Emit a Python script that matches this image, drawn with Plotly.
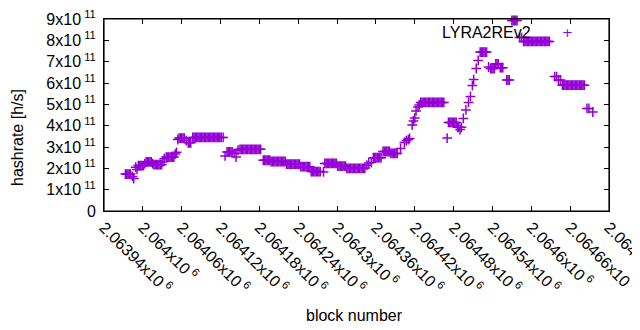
import plotly.graph_objects as go

# ---- data (block number, hashrate in units of 1e11 h/s) ----
block_number = [
    2063973, 2063975, 2063977, 2063979, 2063981, 2063984, 2063986,
    2063989, 2063991, 2063993, 2063995, 2063997, 2063999, 2064001,
    2064003, 2064005, 2064007, 2064009, 2064011, 2064013,
    2064015, 2064017, 2064019, 2064021, 2064023, 2064025, 2064027, 2064029,
    2064031, 2064033, 2064036, 2064038, 2064040, 2064042, 2064044, 2064046, 2064048, 2064050, 2064052,
    2064054, 2064056, 2064058, 2064060, 2064062, 2064064,
    2064067, 2064070, 2064072, 2064074,
    2064077, 2064079, 2064081, 2064083, 2064085, 2064087, 2064089, 2064091, 2064093, 2064095, 2064097, 2064099,
    2064101, 2064103, 2064105, 2064107, 2064109, 2064111, 2064113, 2064115, 2064117, 2064119, 2064121, 2064124,
    2064127, 2064130, 2064132, 2064134, 2064136, 2064138, 2064141, 2064144, 2064147,
    2064150, 2064152, 2064154, 2064156, 2064158, 2064160, 2064162, 2064164, 2064166, 2064168, 2064170, 2064172,
    2064174, 2064176, 2064178, 2064180, 2064182,
    2064186, 2064188, 2064190, 2064192, 2064194, 2064196,
    2064198, 2064200, 2064202, 2064204, 2064206, 2064208, 2064210, 2064212, 2064214, 2064216, 2064218, 2064220,
    2064222, 2064224, 2064226, 2064228, 2064230, 2064232, 2064234, 2064236, 2064238, 2064240, 2064242,
    2064244, 2064246, 2064248, 2064250, 2064252, 2064254, 2064256, 2064258,
    2064260, 2064262, 2064264, 2064266, 2064268, 2064270, 2064272, 2064274, 2064279,
    2064281, 2064283, 2064285, 2064287, 2064289, 2064291, 2064293, 2064295, 2064297, 2064299,
    2064301, 2064303, 2064305, 2064307, 2064309, 2064311, 2064313,
    2064315, 2064317, 2064319, 2064321, 2064323, 2064325, 2064327, 2064329, 2064331, 2064333, 2064335, 2064337,
    2064339, 2064341, 2064343,
    2064346, 2064349, 2064353,
    2064356, 2064358, 2064360, 2064362, 2064364, 2064366, 2064368,
    2064371, 2064373, 2064375, 2064377, 2064379, 2064381,
    2064383, 2064385, 2064387, 2064389, 2064391, 2064393,
    2064398, 2064404, 2064407, 2064410, 2064412, 2064416, 2064418, 2064420, 2064422, 2064425, 2064427,
    2064429, 2064431, 2064433, 2064435, 2064437, 2064439, 2064441, 2064443, 2064445, 2064447, 2064449, 2064451,
    2064453, 2064455, 2064457, 2064459, 2064461, 2064463, 2064465,
    2064470, 2064472, 2064474, 2064476, 2064478, 2064480, 2064482, 2064484,
    2064486, 2064488, 2064490, 2064492,
    2064495, 2064499, 2064503, 2064506, 2064509, 2064511, 2064515, 2064518,
    2064521, 2064523, 2064525, 2064527, 2064529, 2064531,
    2064534, 2064537, 2064539, 2064541, 2064543,
    2064545, 2064547, 2064549, 2064552, 2064554, 2064556,
    2064562, 2064564, 2064566,
    2064570, 2064572, 2064574, 2064576, 2064578,
    2064582, 2064585,
    2064588, 2064590, 2064592, 2064594, 2064596, 2064598, 2064600, 2064602, 2064604, 2064606, 2064608,
    2064610, 2064612, 2064614, 2064616, 2064618, 2064620, 2064622, 2064624, 2064626, 2064628,
    2064636, 2064639, 2064642, 2064645,
    2064648, 2064650, 2064652, 2064654, 2064656, 2064658, 2064660, 2064662, 2064664, 2064666, 2064668,
    2064670, 2064672, 2064674, 2064676, 2064678, 2064680, 2064682,
    2064686, 2064689, 2064695,
]

hashrate_e11 = [
    1.73, 1.73, 1.73, 1.73, 1.73, 1.62, 1.52,
    2.05, 1.95, 2.13, 2.13, 2.13, 2.13, 2.13,
    2.22, 2.30, 2.30, 2.30, 2.30, 2.30,
    2.22, 2.17, 2.17, 2.17, 2.17, 2.17, 2.17, 2.17,
    2.30, 2.45, 2.53, 2.53, 2.53, 2.53, 2.53, 2.53, 2.53, 2.67, 2.75,
    3.35, 3.42, 3.42, 3.42, 3.42, 3.42,
    3.30, 3.20, 3.20, 3.20,
    3.45, 3.45, 3.45, 3.45, 3.45, 3.45, 3.45, 3.45, 3.45, 3.45, 3.45, 3.45,
    3.45, 3.45, 3.45, 3.45, 3.45, 3.45, 3.45, 3.45, 3.45, 3.45, 3.45, 3.45,
    2.58, 2.77, 2.77, 2.77, 2.77, 2.77, 2.70, 2.53, 2.85,
    2.89, 2.89, 2.89, 2.89, 2.89, 2.89, 2.89, 2.89, 2.89, 2.89, 2.89, 2.89,
    2.89, 2.89, 2.89, 2.89, 2.89,
    2.38, 2.38, 2.38, 2.38, 2.38, 2.38,
    2.32, 2.32, 2.32, 2.32, 2.32, 2.32, 2.32, 2.32, 2.32, 2.32, 2.32, 2.32,
    2.20, 2.20, 2.20, 2.20, 2.20, 2.20, 2.20, 2.20, 2.20, 2.20, 2.20,
    2.08, 2.08, 2.08, 2.08, 2.08, 2.08, 2.08, 2.08,
    1.85, 1.85, 1.85, 1.85, 1.85, 1.85, 1.85, 1.85, 1.83,
    2.23, 2.23, 2.23, 2.23, 2.23, 2.23, 2.23, 2.23, 2.23, 2.23,
    2.10, 2.10, 2.10, 2.10, 2.10, 2.10, 2.10,
    2.00, 2.00, 2.00, 2.00, 2.00, 2.00, 2.00, 2.00, 2.00, 2.00, 2.00, 2.00,
    2.00, 2.00, 2.00,
    2.15, 2.25, 2.27,
    2.50, 2.50, 2.50, 2.50, 2.50, 2.50, 2.50,
    2.79, 2.79, 2.79, 2.79, 2.79, 2.79,
    2.70, 2.70, 2.70, 2.70, 2.70, 2.70,
    2.93, 3.21, 3.30, 3.35, 3.40, 4.03, 4.22, 4.36, 4.69, 4.88, 4.97,
    5.09, 5.09, 5.09, 5.09, 5.09, 5.09, 5.09, 5.09, 5.09, 5.09, 5.09, 5.09,
    5.09, 5.09, 5.09, 5.09, 5.09, 5.09, 5.09,
    3.42, 4.15, 4.15, 4.15, 4.15, 4.15, 4.15, 4.15,
    3.92, 3.92, 3.82, 3.92,
    4.34, 4.74, 5.09, 5.37, 5.88, 6.16, 6.68, 7.06,
    7.45, 7.45, 7.45, 7.45, 7.45, 7.45,
    6.75, 6.68, 6.68, 6.68, 6.68,
    6.90, 6.90, 6.90, 6.72, 6.72, 6.72,
    6.14, 6.14, 6.14,
    8.93, 8.93, 8.93, 8.93, 8.93,
    8.13, 8.13,
    7.95, 7.95, 7.95, 7.95, 7.95, 7.95, 7.95, 7.95, 7.95, 7.95, 7.95,
    7.95, 7.95, 7.95, 7.95, 7.95, 7.95, 7.95, 7.95, 7.95, 7.95,
    6.30, 6.30, 6.14, 6.14,
    5.90, 5.90, 5.90, 5.90, 5.90, 5.90, 5.90, 5.90, 5.90, 5.90, 5.90,
    5.90, 5.90, 5.90, 5.90, 5.90, 5.90, 5.90,
    4.81, 4.81, 4.64,
]

series_name = "LYRA2REv2"

x_tick_values = [2063940, 2064000, 2064060, 2064120, 2064180, 2064240, 2064300,
                 2064360, 2064420, 2064480, 2064540, 2064600, 2064660, 2064720]
x_tick_labels = ["2.06394x10<sup> 6</sup>", "2.064x10<sup> 6</sup>", "2.06406x10<sup> 6</sup>",
                 "2.06412x10<sup> 6</sup>", "2.06418x10<sup> 6</sup>", "2.06424x10<sup> 6</sup>",
                 "2.0643x10<sup> 6</sup>", "2.06436x10<sup> 6</sup>", "2.06442x10<sup> 6</sup>",
                 "2.06448x10<sup> 6</sup>", "2.06454x10<sup> 6</sup>", "2.0646x10<sup> 6</sup>",
                 "2.06466x10<sup> 6</sup>", "2.06472x10<sup> 6</sup>"]
y_tick_values = [0, 1e11, 2e11, 3e11, 4e11, 5e11, 6e11, 7e11, 8e11, 9e11]
y_tick_labels = ["0", "1x10<sup> 11</sup>", "2x10<sup> 11</sup>", "3x10<sup> 11</sup>",
                 "4x10<sup> 11</sup>", "5x10<sup> 11</sup>", "6x10<sup> 11</sup>",
                 "7x10<sup> 11</sup>", "8x10<sup> 11</sup>", "9x10<sup> 11</sup>"]

hashrate = [v * 1e11 for v in hashrate_e11]

PURPLE = "#9400d3"
FONT = "Liberation Sans"
FS = 16

# The page body has an 8px default margin, so the figure sits at (8, 8) in the window.
OFF = 8
W, H = 640, 330
L, T = 104 - OFF, 19 - OFF          # plot area left/top in figure pixels
pw, ph = 505, 192
R = W - L - pw
B = H - T - ph


def px(sx):
    """screen x pixel -> paper x"""
    return (sx - OFF - L) / pw


def py(sy):
    """screen y pixel -> paper y"""
    return (T + ph - (sy - OFF)) / ph


fig = go.Figure()
fig.add_trace(go.Scatter(
    x=block_number, y=hashrate, mode="markers", name=series_name,
    marker=dict(symbol="cross-thin", size=7, color=PURPLE,
                line=dict(color=PURPLE, width=1.5)),
    cliponaxis=False, showlegend=False,
))

axis_common = dict(showline=True, linecolor="black", linewidth=1, mirror="allticks",
                   ticks="inside", ticklen=5, tickcolor="black", tickwidth=1,
                   showgrid=False, zeroline=False, automargin=False,
                   ticklabeloverflow="allow",
                   tickfont=dict(family=FONT, size=FS, color="black"))

fig.update_xaxes(range=[2063940, 2064720], tickvals=x_tick_values, ticktext=x_tick_labels,
                 tickangle=45, **axis_common)
fig.update_yaxes(range=[0, 9e11], tickvals=y_tick_values, ticktext=y_tick_labels,
                 ticklabelstandoff=4, **axis_common)

# gnuplot border around the plot area
fig.add_shape(type="rect", xref="paper", yref="paper", x0=0, y0=0, x1=1, y1=1,
              line=dict(color="black", width=1.2), fillcolor="rgba(0,0,0,0)", layer="above")

# axis titles
fig.add_annotation(x=px(354), y=py(315), xref="paper", yref="paper", text="block number",
                   showarrow=False, xanchor="center", yanchor="middle",
                   font=dict(family=FONT, size=FS, color="black"))
fig.add_annotation(x=px(17), y=py(138), xref="paper", yref="paper", text="hashrate [h/s]",
                   showarrow=False, xanchor="center", yanchor="middle", textangle=-90,
                   font=dict(family=FONT, size=FS, color="black"))

# key (gnuplot style: text, then sample to the right)
fig.add_annotation(x=px(533), y=py(32), xref="paper", yref="paper", text=series_name,
                   showarrow=False, xanchor="right", yanchor="middle",
                   font=dict(family=FONT, size=FS, color="black"))
fig.add_annotation(x=px(567), y=py(32), xref="paper", yref="paper",
                   text="+", showarrow=False, xanchor="center", yanchor="middle",
                   font=dict(family="DejaVu Sans", size=13, color=PURPLE))

fig.update_layout(
    width=W, height=H,
    margin=dict(l=L, r=R, t=T, b=B, autoexpand=False),
    paper_bgcolor="white", plot_bgcolor="white",
    font=dict(family=FONT, size=FS, color="black"),
)

fig.write_html("out.html")
